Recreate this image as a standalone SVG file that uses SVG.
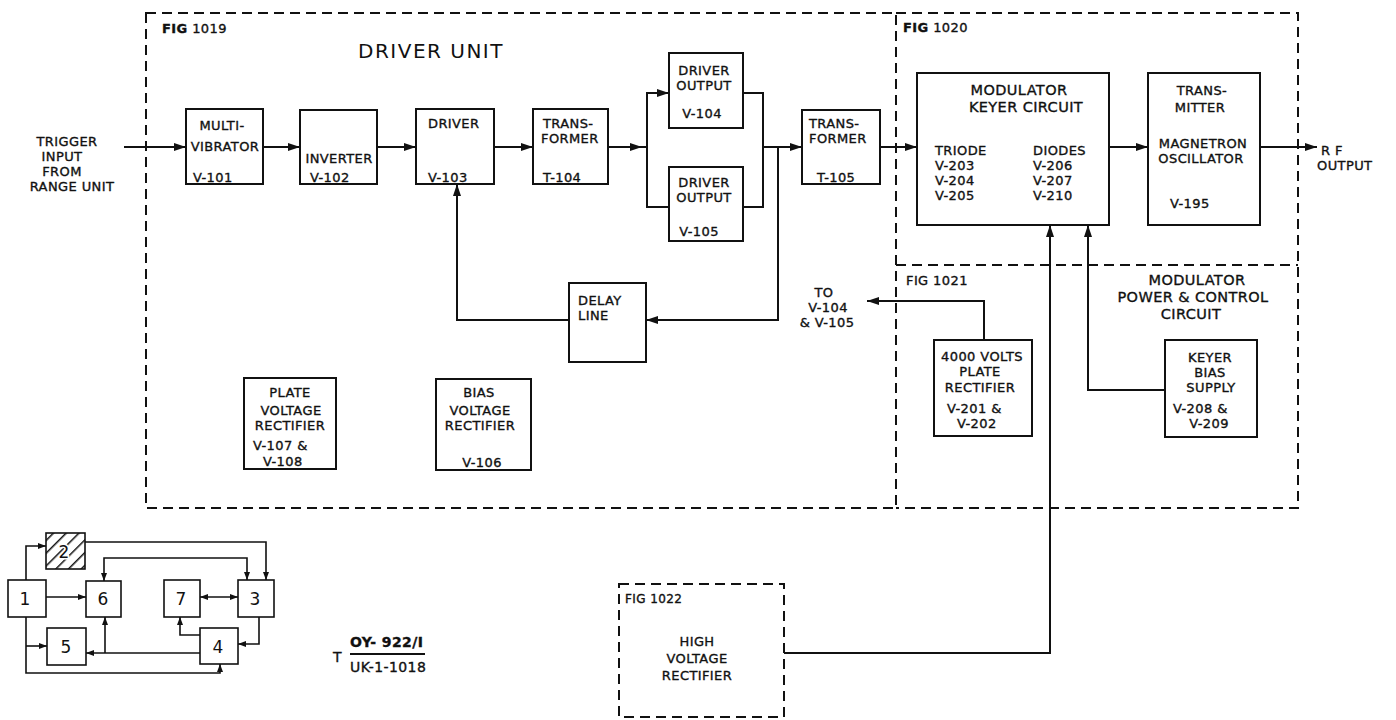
<svg xmlns="http://www.w3.org/2000/svg" width="1396" height="720" viewBox="0 0 1396 720">
<style>
.box{fill:#fff;stroke:#111;stroke-width:2}
.dash{fill:none;stroke:#111;stroke-width:2;stroke-dasharray:10 6}
.wire{fill:none;stroke:#111;stroke-width:2}
.kw{fill:none;stroke:#111;stroke-width:1.6}
text{font-family:"DejaVu Sans","Liberation Sans",sans-serif;fill:#111;font-size:13px;stroke:#111;stroke-width:0.35;letter-spacing:0.4px}
.m{text-anchor:middle}
.fig{font-size:13px}
.title{font-size:20px;stroke-width:0;letter-spacing:1.5px}
.big{font-size:14.5px}
.key{font-size:17px;stroke-width:0;text-anchor:middle;letter-spacing:0}
</style>
<defs>
<marker id="ah" viewBox="0 0 12 8" refX="12" refY="4" markerWidth="12" markerHeight="8" markerUnits="userSpaceOnUse" orient="auto-start-reverse"><path d="M0,0 L12,4 L0,8 z" fill="#111"/></marker>
<marker id="ak" viewBox="0 0 8 6" refX="8" refY="3" markerWidth="8" markerHeight="6" markerUnits="userSpaceOnUse" orient="auto-start-reverse"><path d="M0,0 L8,3 L0,6 z" fill="#111"/></marker>
<pattern id="hatch" patternUnits="userSpaceOnUse" width="9" height="9" patternTransform="rotate(45)"><rect width="9" height="9" fill="#fff"/><line x1="0" y1="0" x2="0" y2="9" stroke="#111" stroke-width="3"/></pattern>
</defs>

<g id="frames">
<rect class="dash" x="146" y="13" width="750" height="495"/>
<path class="dash" d="M896,13 H1298 V508 H896"/>
<path class="dash" d="M896,265 H1298"/>
<rect class="dash" x="619" y="584" width="165" height="133"/>
<text class="fig" x="162" y="33"><tspan style="font-weight:bold">FIG</tspan> 1019</text>
<text class="title" x="358" y="58">DRIVER UNIT</text>
<text class="fig" x="903" y="32"><tspan style="font-weight:bold">FIG</tspan> 1020</text>
<text class="fig" x="906" y="285">FIG 1021</text>
<text class="fig" x="625" y="603" style="font-size:12px">FIG 1022</text>
</g>

<g id="trigger">
<text class="m" x="67" y="146">TRIGGER</text>
<text class="m" x="62" y="161">INPUT</text>
<text class="m" x="62" y="176">FROM</text>
<text class="m" x="72" y="191">RANGE UNIT</text>
</g>

<g id="multivibrator">
<rect class="box" x="186" y="109" width="77" height="75"/>
<text class="m" x="222" y="130">MULTI-</text>
<text class="m" x="225" y="151">VIBRATOR</text>
<text x="193" y="182">V-101</text>
</g>
<g id="inverter">
<rect class="box" x="300" y="110" width="77" height="74"/>
<text class="m" x="339" y="163">INVERTER</text>
<text x="310" y="182">V-102</text>
</g>
<g id="driver">
<rect class="box" x="416" y="109" width="78" height="75"/>
<text x="428" y="128">DRIVER</text>
<text x="428" y="182">V-103</text>
</g>
<g id="t104">
<rect class="box" x="533" y="109" width="75" height="75"/>
<text x="543" y="128">TRANS-</text>
<text x="541" y="143">FORMER</text>
<text x="543" y="182">T-104</text>
</g>
<g id="v104">
<rect class="box" x="669" y="53" width="74" height="75"/>
<text class="m" x="704" y="75">DRIVER</text>
<text class="m" x="704" y="90">OUTPUT</text>
<text class="m" x="702" y="118">V-104</text>
</g>
<g id="v105">
<rect class="box" x="669" y="167" width="74" height="74"/>
<text class="m" x="704" y="187">DRIVER</text>
<text class="m" x="704" y="202">OUTPUT</text>
<text class="m" x="699" y="236">V-105</text>
</g>
<g id="t105">
<rect class="box" x="802" y="110" width="78" height="74"/>
<text x="809" y="128">TRANS-</text>
<text x="809" y="143">FORMER</text>
<text x="817" y="182">T-105</text>
</g>
<g id="delayline">
<rect class="box" x="569" y="283" width="77" height="79"/>
<text x="578" y="305">DELAY</text>
<text x="578" y="320">LINE</text>
</g>
<g id="to-v104">
<text class="m" x="824" y="297">TO</text>
<text class="m" x="828" y="312">V-104</text>
<text class="m" x="827" y="327">&amp; V-105</text>
</g>
<g id="plate-rect">
<rect class="box" x="244" y="378" width="92" height="91"/>
<text class="m" x="290" y="397">PLATE</text>
<text class="m" x="291" y="415">VOLTAGE</text>
<text class="m" x="290" y="430">RECTIFIER</text>
<text x="253" y="450">V-107 &amp;</text>
<text x="263" y="466">V-108</text>
</g>
<g id="bias-rect">
<rect class="box" x="436" y="379" width="95" height="91"/>
<text class="m" x="479" y="397">BIAS</text>
<text class="m" x="480" y="415">VOLTAGE</text>
<text class="m" x="480" y="430">RECTIFIER</text>
<text class="m" x="482" y="467">V-106</text>
</g>
<g id="modulator-keyer">
<rect class="box" x="917" y="73" width="192" height="152"/>
<text class="m big" x="1019" y="95">MODULATOR</text>
<text class="m big" x="1026" y="112">KEYER CIRCUIT</text>
<text x="935" y="155">TRIODE</text>
<text x="935" y="170">V-203</text>
<text x="935" y="185">V-204</text>
<text x="935" y="200">V-205</text>
<text x="1033" y="155">DIODES</text>
<text x="1033" y="170">V-206</text>
<text x="1033" y="185">V-207</text>
<text x="1033" y="200">V-210</text>
</g>
<g id="transmitter">
<rect class="box" x="1148" y="73" width="112" height="152"/>
<text class="m" x="1202" y="95">TRANS-</text>
<text class="m" x="1200" y="112">MITTER</text>
<text class="m" x="1203" y="148">MAGNETRON</text>
<text class="m" x="1201" y="163">OSCILLATOR</text>
<text x="1170" y="208">V-195</text>
</g>
<g id="rf-output">
<text x="1321" y="155">R F</text>
<text x="1317" y="170">OUTPUT</text>
</g>
<g id="mod-power">
<text class="m big" x="1197" y="285">MODULATOR</text>
<text class="m big" x="1193" y="302">POWER &amp; CONTROL</text>
<text class="m big" x="1191" y="319">CIRCUIT</text>
</g>
<g id="plate-4000">
<rect class="box" x="934" y="340" width="98" height="96"/>
<text class="m" x="982" y="361">4000 VOLTS</text>
<text class="m" x="980" y="376">PLATE</text>
<text class="m" x="980" y="392">RECTIFIER</text>
<text x="947" y="413">V-201 &amp;</text>
<text x="957" y="428">V-202</text>
</g>
<g id="keyer-bias">
<rect class="box" x="1165" y="340" width="92" height="97"/>
<text class="m" x="1210" y="362">KEYER</text>
<text class="m" x="1210" y="377">BIAS</text>
<text class="m" x="1211" y="392">SUPPLY</text>
<text x="1173" y="413">V-208 &amp;</text>
<text class="m" x="1209" y="428">V-209</text>
</g>
<g id="hv-rect">
<text class="m" x="697" y="646">HIGH</text>
<text class="m" x="697" y="663">VOLTAGE</text>
<text class="m" x="697" y="680">RECTIFIER</text>
</g>
<g id="drawing-no">
<text x="333" y="662" style="font-size:14px">T</text>
<text x="350" y="647" style="font-size:14px;font-weight:bold">OY- 922/I</text>
<line x1="350" y1="654" x2="425" y2="654" stroke="#111" stroke-width="2"/>
<text x="350" y="672" style="font-size:14px">UK-1-1018</text>
</g>

<g id="connectors">
<path class="wire" d="M124,147 H186" marker-end="url(#ah)"/>
<path class="wire" d="M263,147 H300" marker-end="url(#ah)"/>
<path class="wire" d="M377,147 H416" marker-end="url(#ah)"/>
<path class="wire" d="M494,147 H533" marker-end="url(#ah)"/>
<path class="wire" d="M608,147 H642" marker-end="url(#ah)"/>
<path class="wire" d="M642,147 H647"/>
<path class="wire" d="M669,93 H647 V207 H669"/>
<path class="wire" d="M647,93 H669" marker-end="url(#ah)"/>
<path class="wire" d="M743,93 H763 V207 H743"/>
<path class="wire" d="M763,147 H802" marker-end="url(#ah)"/>
<path class="wire" d="M778,147 V320 H646" marker-end="url(#ah)"/>
<path class="wire" d="M569,320 H457 V184" marker-end="url(#ah)"/>
<path class="wire" d="M880,147 H917" marker-end="url(#ah)"/>
<path class="wire" d="M1109,147 H1148" marker-end="url(#ah)"/>
<path class="wire" d="M1260,147 H1317" marker-end="url(#ah)"/>
<path class="wire" d="M784,653 H1050 V225" marker-end="url(#ah)"/>
<path class="wire" d="M1165,390 H1088 V225" marker-end="url(#ah)"/>
<path class="wire" d="M984,340 V301 H867" marker-end="url(#ah)"/>
</g>

<g id="key">
<rect class="box" x="8" y="580" width="38" height="37" style="stroke-width:1.6"/>
<rect x="46" y="533" width="39" height="36" fill="url(#hatch)" stroke="#111" stroke-width="1.6"/>
<rect class="box" x="86" y="581" width="35" height="36" style="stroke-width:1.6"/>
<rect class="box" x="164" y="580" width="36" height="37" style="stroke-width:1.6"/>
<rect class="box" x="238" y="580" width="36" height="37" style="stroke-width:1.6"/>
<rect class="box" x="47" y="628" width="39" height="37" style="stroke-width:1.6"/>
<rect class="box" x="200" y="628" width="38" height="36" style="stroke-width:1.6"/>
<text class="key" x="25" y="605">1</text>
<text class="key" x="64" y="558" style="stroke:#fff;stroke-width:3;paint-order:stroke">2</text>
<text class="key" x="103" y="605">6</text>
<text class="key" x="181" y="605">7</text>
<text class="key" x="255" y="605">3</text>
<text class="key" x="66" y="653">5</text>
<text class="key" x="218" y="653">4</text>
<path class="kw" d="M26,580 V546 H46" marker-end="url(#ak)"/>
<path class="kw" d="M85,542 H266 V580" marker-end="url(#ak)"/>
<path class="kw" d="M104,581 V558 H247 V580" marker-start="url(#ak)" marker-end="url(#ak)"/>
<path class="kw" d="M46,597 H86" marker-end="url(#ak)"/>
<path class="kw" d="M200,597 H238" marker-start="url(#ak)" marker-end="url(#ak)"/>
<path class="kw" d="M259,617 V644 H238" marker-end="url(#ak)"/>
<path class="kw" d="M200,653 H86" marker-end="url(#ak)"/>
<path class="kw" d="M105,653 V617" marker-end="url(#ak)"/>
<path class="kw" d="M200,635 H180 V617" marker-end="url(#ak)"/>
<path class="kw" d="M26,617 V673 H220 V664" marker-end="url(#ak)"/>
<path class="kw" d="M26,646 H47" marker-end="url(#ak)"/>
</g>
</svg>
